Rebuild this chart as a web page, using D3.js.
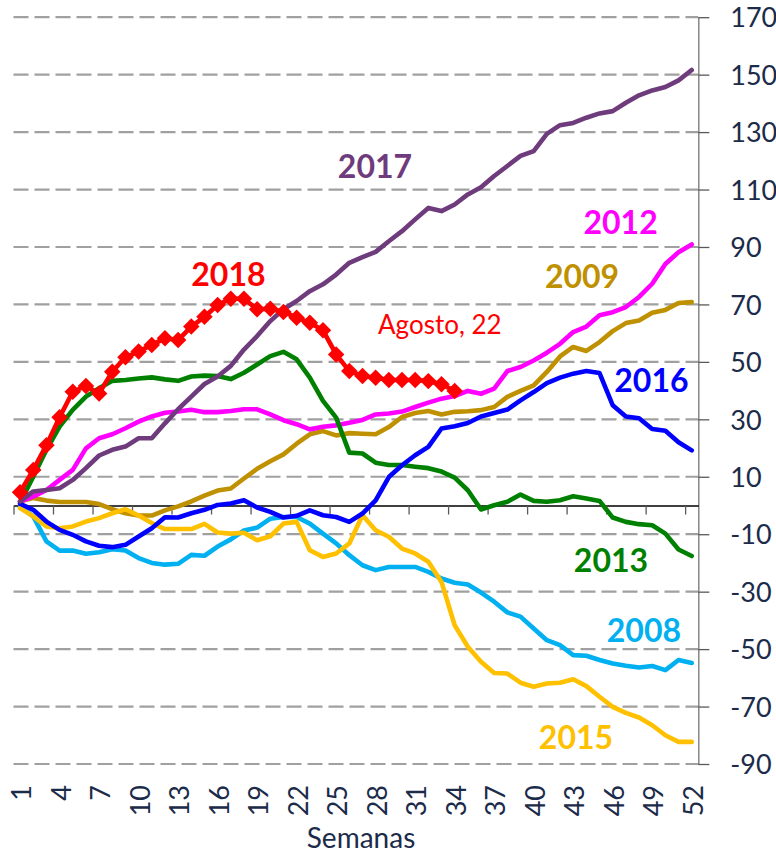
<!DOCTYPE html>
<html>
<head>
<meta charset="utf-8">
<script src="https://cdn.jsdelivr.net/npm/d3@7"></script>
<style>
body { margin: 0; background: #fff; }
text { font-family: Lato, "Liberation Sans", sans-serif; }
</style>
</head>
<body>
<svg width="776" height="855"></svg>
<script>
// weekly values, weeks 1..52 (2018 only up to week 34)
var weeks = d3.range(1, 53);
var s2008 = [-0.5, -3.8, -12.5, -15.7, -15.7, -16.8, -16.3, -15.2, -15.7, -18.3, -20, -20.6, -20.3, -17.2, -17.5, -14.3,
  -11.8, -8.7, -7.7, -4.6, -4, -4, -6.3, -9.8, -13.2, -17.3, -20.8, -22.5, -21.4, -21.4, -21.4, -23.1, -25.4, -26.9,
  -27.5, -30.3, -33.5, -37.2, -38.7, -42.8, -46.9, -48.6, -52.1, -52.3, -53.8, -55, -55.8, -56.4, -55.9, -57.3, -53.8, -54.8];
var s2009 = [1.5, 2.6, 1.7, 1.2, 1.2, 1.2, 0.5, -1.3, -2.7, -3.5, -3.5, -1.7, -0.3, 1.4, 3.4, 5.2,
  5.9, 9.4, 12.8, 15.4, 17.8, 21.5, 24.8, 25.9, 24.4, 25.2, 25, 24.8, 27.3, 30.8, 32.2, 32.9, 31.7, 32.6,
  32.8, 33.2, 34.3, 37.8, 39.9, 41.8, 46.5, 51.9, 55.2, 53.8, 56.9, 60.7, 63.5, 64.4, 67.1, 68.1, 70.5, 70.8];
var s2012 = [1.4, 3.1, 5.4, 8.9, 12.4, 19.9, 23.4, 24.8, 26.9, 29.2, 31, 32.3, 32.7, 33.3, 32.5, 32.5,
  32.9, 33.5, 33.5, 31.7, 29.7, 28.3, 26.5, 27.4, 27.9, 28.8, 29.8, 31.7, 32, 32.7, 34.3, 35.8, 37.2, 38.1,
  39.9, 38.9, 40.7, 46.8, 48.2, 50.5, 53.2, 56.3, 60.4, 62.3, 66.2, 67.3, 69.1, 72.6, 77.2, 84.1, 88.2, 90.9];
var s2013 = [1, 10, 19.4, 27.5, 33.3, 37.9, 40.8, 43.4, 43.7, 44.2, 44.6, 43.9, 43.4, 44.9, 45.2, 45.1,
  44, 46.2, 49.1, 52, 53.5, 50.9, 44.5, 36.4, 30.6, 18.4, 18.1, 14.9, 14.1, 14.1, 13.5, 13, 11.8, 9.7,
  5.3, -1.4, 0.1, 1.3, 3.8, 1.6, 1.3, 1.8, 3.2, 2.4, 1.6, -4.2, -5.7, -6.5, -6.9, -9.8, -15.3, -17.6];
var s2015 = [-0.9, -3.8, -7.3, -7.9, -7.3, -5.6, -4.4, -2.7, -1.3, -3.5, -6.1, -8.2, -8.2, -8.2, -6.4, -9.4,
  -9.8, -9.5, -12.1, -10.7, -6.3, -5.7, -15.6, -17.9, -16.7, -13.2, -3.4, -8.6, -10.9, -15, -16.7, -19.6, -26.6, -41.7,
  -49.2, -54.4, -58.3, -58.5, -61.7, -63.1, -62, -61.7, -60.5, -62.9, -66.6, -70.1, -72.2, -73.8, -76.5, -80, -82.3, -82.3];
var s2016 = [0.6, -1.5, -5.6, -8.5, -10.2, -12.5, -14, -14.5, -13.7, -10.8, -7.9, -4.1, -4.2, -2.7, -1.5, 0.2,
  0.7, 1.8, -0.7, -2.2, -4.2, -3.6, -1.7, -3.4, -4, -5.7, -2.8, 1.8, 9.9, 14, 17.5, 20.4, 26.8, 27.6,
  28.7, 31, 32.2, 33.4, 36.6, 39.5, 42.6, 44.5, 45.9, 46.8, 46.1, 34.9, 31, 30.4, 26.6, 26, 22, 19.2];
var s2017 = [1.4, 4.9, 5.4, 6, 8.9, 13, 17.4, 19.4, 20.5, 23.4, 23.4, 28.6, 33.5, 37.9, 42.3, 44.9,
  48.6, 54.3, 59, 64.2, 68.3, 71.2, 74.6, 77, 80.4, 84.5, 86.5, 88.3, 92, 95.5, 99.6, 103.6, 102.5, 104.8,
  108.3, 110.8, 114.7, 118.2, 121.7, 123.4, 129.4, 132.4, 133.2, 135, 136.5, 137.3, 140.2, 142.8, 144.5, 145.7, 148, 151.6];
var s2018 = [4.6, 12.4, 21, 30.7, 39.6, 41.6, 39, 46.6, 51.6, 53.6, 55.9, 58.2, 57.6, 62.3, 65.7, 69.8,
  72, 72, 68.3, 68.5, 67.4, 65.4, 63.6, 61, 52.6, 46.8, 45.1, 44.5, 43.7, 43.7, 43.7, 43.3, 42.2, 39.9];

var years = ["2008", "2009", "2012", "2013", "2015", "2016", "2017", "2018"];
var colors = ["#00b0f0", "#bf9000", "#ff00ff", "#008000", "#ffc000", "#0000ff", "#6e3b7c", "#ff0000"];
var yTicks = d3.range(-90, 171, 20);
var xTicks = d3.range(1, 53, 3);

// label anchors in (week, value)
var notes = [
  {t: "2017", w: 27.95, v: 114, c: "#6e3b7c"},
  {t: "2018", w: 16.82, v: 76.4, c: "#ff0000"},
  {t: "2012", w: 46.6, v: 94.5, c: "#ff00ff"},
  {t: "2009", w: 43.67, v: 75.6, c: "#bf9000"},
  {t: "2016", w: 48.94, v: 39.6, c: "#0000ff"},
  {t: "2013", w: 45.87, v: -23.2, c: "#008000"},
  {t: "2008", w: 48.37, v: -47.4, c: "#00b0f0"},
  {t: "2015", w: 43.21, v: -84.9, c: "#ffc000"}
];

var series = [s2008, s2009, s2012, s2013, s2015, s2016, s2017, s2018].map(function(vals, i) {
  return {year: years[i], color: colors[i], values: vals.map(function(v, j) { return {w: weeks[j], v: v}; })};
});

let svg = d3.select("svg");
let x = d3.scaleLinear().domain([0.5, 52.5]).range([13.5, 698.3]);
let y = d3.scaleLinear().domain([-90, 170]).range([764, 17.2]);
var navy = "#1c2b4a";

// dashed grid
svg.append("g").selectAll("line").data(yTicks).enter().append("line")
  .attr("x1", x(0.5)).attr("x2", x(52.5))
  .attr("y1", d => y(d)).attr("y2", d => y(d))
  .attr("stroke", "#a0a0a0").attr("stroke-width", 2.2).attr("stroke-dasharray", "15,6");

// right axis
let yAxis = svg.append("g").attr("transform", `translate(${x(52.5)},0)`)
  .call(d3.axisRight(y).tickValues(yTicks).tickSize(11).tickSizeOuter(0).tickPadding(21).tickFormat(d => String(d)));
yAxis.select(".domain").attr("stroke", "#868686").attr("stroke-width", 1.5);
yAxis.selectAll(".tick line").attr("stroke", "#595959").attr("stroke-width", 1.3);
yAxis.selectAll(".tick text").attr("fill", navy).attr("font-size", 27).attr("dy", "0.36em")
  .style("font-family", "Lato, 'Liberation Sans', sans-serif");

// zero axis with category ticks
let xAxis = svg.append("g").attr("transform", `translate(0,${y(0)})`)
  .call(d3.axisBottom(x).tickValues(d3.range(0.5, 52, 3)).tickSize(9).tickSizeOuter(0).tickFormat(""));
xAxis.select(".domain").attr("stroke", "#000").attr("stroke-width", 1.3);
xAxis.selectAll(".tick line").attr("stroke", "#595959").attr("stroke-width", 1.3);

svg.append("g").selectAll("text").data(xTicks).enter().append("text")
  .attr("transform", d => `translate(${x(d) + 1.5},785) rotate(-90)`)
  .attr("text-anchor", "end").attr("dy", "0.36em")
  .attr("fill", navy).attr("font-size", 27)
  .text(d => d);

svg.append("text").attr("x", 361).attr("y", 848).attr("text-anchor", "middle")
  .attr("fill", navy).attr("font-size", 28).text("Semanas");

// lines
let line = d3.line().x(d => x(d.w)).y(d => y(d.v));
svg.append("g").selectAll("path").data(series).enter().append("path")
  .attr("d", d => line(d.values))
  .attr("fill", "none").attr("stroke", d => d.color)
  .attr("stroke-width", 4.6).attr("stroke-linejoin", "round").attr("stroke-linecap", "round");

// 2018 diamonds
let s18 = series[7];
svg.append("g").selectAll("path").data(s18.values).enter().append("path")
  .attr("d", d3.symbol().type(d3.symbolSquare).size(136))
  .attr("transform", d => `translate(${x(d.w)},${y(d.v)}) rotate(45)`)
  .attr("fill", "#ff0000");

svg.append("g").selectAll("text").data(notes).enter().append("text")
  .attr("x", d => x(d.w)).attr("y", d => y(d.v))
  .attr("text-anchor", "middle").attr("font-weight", "bold").attr("font-size", 32)
  .attr("fill", d => d.c).text(d => d.t);

svg.append("text").attr("x", x(28.18)).attr("y", y(59.7))
  .attr("fill", "#ff0000").attr("font-size", 26).text("Agosto, 22");
</script>
</body>
</html>
